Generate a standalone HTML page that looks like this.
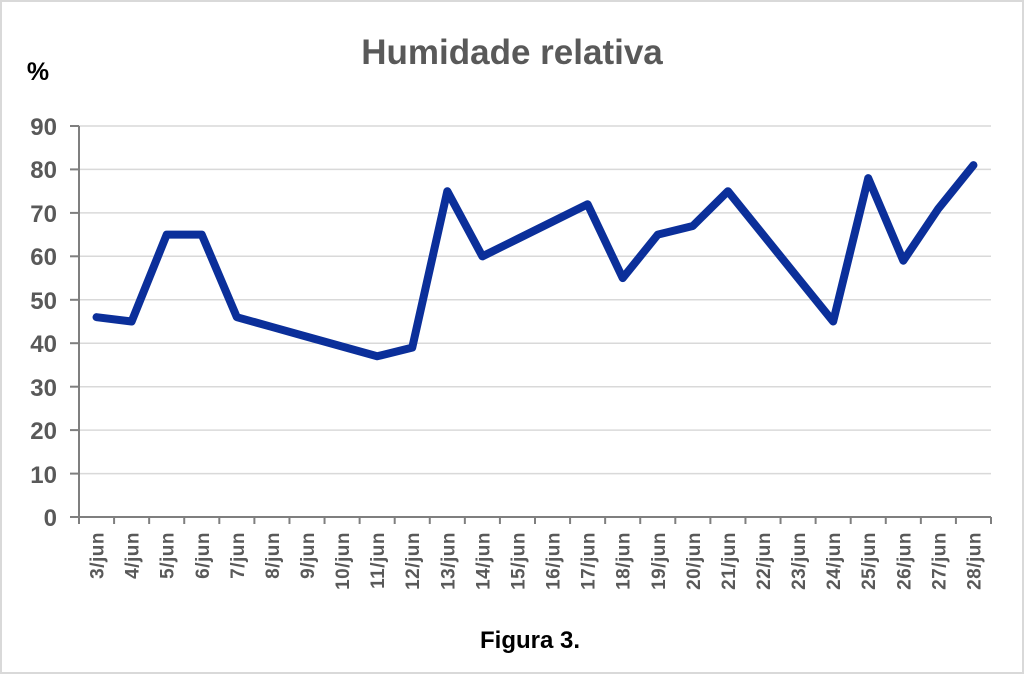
<!DOCTYPE html>
<html><head><style>body{margin:0;background:#fff}svg{display:block}</style></head><body>
<svg width="1024" height="674" xmlns="http://www.w3.org/2000/svg" font-family="Liberation Sans, sans-serif">
<rect x="1" y="1" width="1022" height="672" fill="#fff" stroke="#d9d9d9" stroke-width="2"/>
<text x="512" y="64" text-anchor="middle" font-size="35" font-weight="bold" fill="#595959">Humidade relativa</text>
<text x="38" y="80" text-anchor="middle" font-size="25" font-weight="bold" fill="#000">%</text>
<g stroke="#d9d9d9" stroke-width="1.5">
<line x1="79" x2="991" y1="126" y2="126"/><line x1="79" x2="991" y1="169.4" y2="169.4"/><line x1="79" x2="991" y1="212.9" y2="212.9"/><line x1="79" x2="991" y1="256.3" y2="256.3"/><line x1="79" x2="991" y1="299.8" y2="299.8"/><line x1="79" x2="991" y1="343.2" y2="343.2"/><line x1="79" x2="991" y1="386.7" y2="386.7"/><line x1="79" x2="991" y1="430.1" y2="430.1"/><line x1="79" x2="991" y1="473.6" y2="473.6"/>
</g>
<g stroke="#7f7f7f" stroke-width="2">
<line x1="79" y1="126" x2="79" y2="517"/><line x1="70" y1="517" x2="991" y2="517"/>
<line x1="70" x2="79" y1="126" y2="126"/><line x1="70" x2="79" y1="169.4" y2="169.4"/><line x1="70" x2="79" y1="212.9" y2="212.9"/><line x1="70" x2="79" y1="256.3" y2="256.3"/><line x1="70" x2="79" y1="299.8" y2="299.8"/><line x1="70" x2="79" y1="343.2" y2="343.2"/><line x1="70" x2="79" y1="386.7" y2="386.7"/><line x1="70" x2="79" y1="430.1" y2="430.1"/><line x1="70" x2="79" y1="473.6" y2="473.6"/>
</g>
<g id="xt" stroke="#7f7f7f" stroke-width="2"></g>
<g font-size="24" font-weight="bold" fill="#595959" text-anchor="end">
<text x="57" y="135">90</text><text x="57" y="178">80</text><text x="57" y="222">70</text><text x="57" y="265">60</text><text x="57" y="309">50</text><text x="57" y="352">40</text><text x="57" y="396">30</text><text x="57" y="439">20</text><text x="57" y="483">10</text><text x="57" y="526">0</text>
</g>
<g id="xl" font-size="19" font-weight="bold" fill="#595959" text-anchor="end"></g>
<polyline id="ln" fill="none" stroke="#0b2f9a" stroke-width="8" stroke-linejoin="round" stroke-linecap="round"/>
<text x="530" y="648" text-anchor="middle" font-size="24" font-weight="bold" fill="#000">Figura 3.</text>
<script>
var d=[46,45,65,65,46,43.75,41.5,39.25,37,39,75,60,64,68,72,55,65,67,75,65,55,45,78,59,71,81];
var w=(991-79)/26,p=[],xt=document.getElementById('xt'),xl=document.getElementById('xl');
var ns="http://www.w3.org/2000/svg";
for(var i=0;i<=26;i++){var l=document.createElementNS(ns,'line');var x=79+w*i;l.setAttribute('x1',x);l.setAttribute('x2',x);l.setAttribute('y1',517);l.setAttribute('y2',524);xt.appendChild(l);}
for(var i=0;i<26;i++){var x=79+w*(i+0.5);p.push(x+','+(517-d[i]*4.344));
var t=document.createElementNS(ns,'text');t.setAttribute('transform','translate('+(x+7)+',532) rotate(-90)');t.setAttribute('letter-spacing','0.5');t.textContent=(i+3)+'/jun';xl.appendChild(t);}
document.getElementById('ln').setAttribute('points',p.join(' '));
</script>
</svg>
</body></html>
